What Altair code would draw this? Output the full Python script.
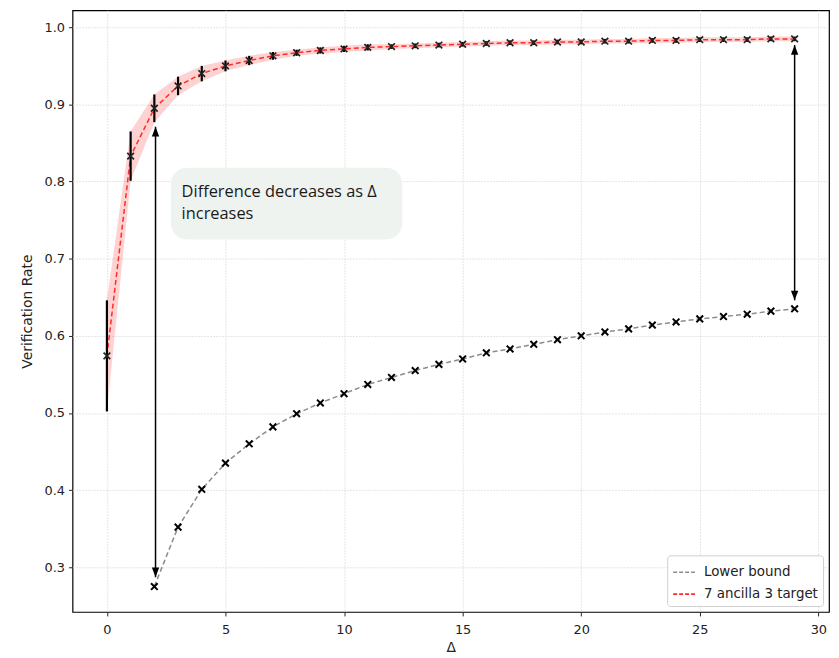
import altair as alt
import pandas as pd

# ---- data ----
delta = list(range(30))
rate_7a3t = [0.574, 0.833, 0.895, 0.924, 0.940, 0.950, 0.957, 0.963, 0.967, 0.970,
             0.972, 0.974, 0.975, 0.976, 0.977, 0.978, 0.979, 0.980, 0.980, 0.981,
             0.981, 0.982, 0.982, 0.983, 0.983, 0.984, 0.984, 0.984, 0.985, 0.985]
err_7a3t = [0.072, 0.032, 0.018, 0.012, 0.010, 0.007, 0.006, 0.005, 0.004, 0.004,
            0.004, 0.004, 0.003, 0.003, 0.003, 0.003, 0.003, 0.003, 0.003, 0.003,
            0.003, 0.003, 0.003, 0.003, 0.003, 0.003, 0.003, 0.003, 0.003, 0.003]
delta_lb = list(range(2, 30))
rate_lb = [0.275, 0.352, 0.401, 0.435, 0.460, 0.482, 0.499, 0.513, 0.525, 0.537,
           0.546, 0.555, 0.563, 0.570, 0.578, 0.583, 0.589, 0.595, 0.600, 0.605,
           0.609, 0.614, 0.618, 0.622, 0.625, 0.628, 0.632, 0.635]
series_names = ["Lower bound", "7 ancilla 3 target"]
series_colors = ["#8c8c8c", "#ff2a2a"]

# annotation: double-headed arrows (x, top tip, bottom tip)
arrow_x = [2.05, 29.0]
arrow_top = [0.871, 0.977]
arrow_bottom = [0.287, 0.646]
note_lines = ["Difference decreases as Δ", "increases"]
note_x, note_y = 3.15, 0.786
box_x, box_x2, box_y, box_y2 = 2.7, 12.45, 0.725, 0.818

# ---- tables ----
red = pd.DataFrame({"x": delta, "y": rate_7a3t, "e": err_7a3t})
red["lo"] = red["y"] - red["e"]
red["hi"] = red["y"] + red["e"]
red["series"] = series_names[1]
gray = pd.DataFrame({"x": delta_lb, "y": rate_lb, "series": series_names[0]})
lines = pd.concat([gray, red[["x", "y", "series"]]], ignore_index=True)
arrows = pd.DataFrame({"x": arrow_x, "top": arrow_top, "bottom": arrow_bottom})
note = pd.DataFrame({"x": [note_x], "y": [note_y]})
box = pd.DataFrame({"x": [box_x], "x2": [box_x2], "y": [box_y], "y2": [box_y2]})

xs = alt.Scale(domain=[-1.45, 30.45], nice=False, zero=False)
ys = alt.Scale(domain=[0.242, 1.022], nice=False, zero=False)
X = alt.X("x:Q", scale=xs, title="Δ",
          axis=alt.Axis(values=[0, 5, 10, 15, 20, 25, 30], labelPadding=8))
Y = alt.Y("y:Q", scale=ys, title="Verification Rate",
          axis=alt.Axis(values=[0.3, 0.4, 0.5, 0.6, 0.7, 0.8, 0.9, 1.0], format=".1f"))

xmark = "M-1,-1L1,1M-1,1L1,-1"

band = alt.Chart(red).mark_area(color="#ff3030", opacity=0.22).encode(
    x=X, y=alt.Y("lo:Q", scale=ys), y2="hi:Q")

line = alt.Chart(lines).mark_line(strokeDash=[5, 3], strokeWidth=1.5).encode(
    x=X, y=Y,
    color=alt.Color("series:N",
                    scale=alt.Scale(domain=series_names, range=series_colors),
                    sort=series_names,
                    legend=alt.Legend(orient="bottom-right", title=None,
                                      symbolType="stroke", symbolDash=[4, 2],
                                      symbolStrokeWidth=1.6, symbolSize=480,
                                      labelFontSize=13.5, labelFont="DejaVu Sans",
                                      labelColor="#222", fillColor="white",
                                      strokeColor="#d0d0d0", cornerRadius=3,
                                      padding=5, offset=6, rowPadding=3,
                                      labelOffset=8)))

errbars = alt.Chart(red).mark_rule(color="black", strokeWidth=2.2).encode(
    x=X, y=alt.Y("lo:Q", scale=ys), y2="hi:Q")

pts_red = alt.Chart(red).mark_point(shape=xmark, size=45, color="#222",
                                    strokeWidth=1.7, filled=False, opacity=1).encode(x=X, y=Y)
pts_gray = alt.Chart(gray).mark_point(shape=xmark, size=45, color="black",
                                      strokeWidth=2, filled=False, opacity=1).encode(x=X, y=Y)

arrow_shaft = alt.Chart(arrows).mark_rule(color="black", strokeWidth=1.5).encode(
    x=alt.X("x:Q", scale=xs), y=alt.Y("bottom:Q", scale=ys), y2="top:Q")
head_up = alt.Chart(arrows).mark_point(shape="M0,0L-0.38,1L0.38,1Z", size=380,
                                       filled=True, color="black", opacity=1).encode(
    x=alt.X("x:Q", scale=xs), y=alt.Y("top:Q", scale=ys))
head_down = alt.Chart(arrows).mark_point(shape="M0,0L-0.38,-1L0.38,-1Z", size=380,
                                         filled=True, color="black", opacity=1).encode(
    x=alt.X("x:Q", scale=xs), y=alt.Y("bottom:Q", scale=ys))

note_box = alt.Chart(box).mark_rect(fill="#eef2ef", cornerRadius=16, opacity=0.95).encode(
    x=alt.X("x:Q", scale=xs), x2="x2:Q", y=alt.Y("y:Q", scale=ys), y2="y2:Q")
note_text = alt.Chart(note).mark_text(text=note_lines, align="left", baseline="middle",
                                      font="Open Sans", fontSize=16.5, lineHeight=22,
                                      color="#1a1a1a").encode(
    x=alt.X("x:Q", scale=xs), y=alt.Y("y:Q", scale=ys))

chart = alt.layer(band, line, errbars, pts_red, pts_gray, arrow_shaft, head_up, head_down,
                  note_box, note_text).properties(
    width=762, height=606,
    autosize=alt.AutoSizeParams(type="none"),
    padding={"left": 65, "top": 0, "right": 2, "bottom": 42},
).configure_view(stroke="black", strokeWidth=1.2).configure_axis(
    domain=False, grid=True, gridColor="#e4e4e4", gridDash=[2, 1], gridWidth=1,
    tickColor="#222", tickSize=4, labelFont="DejaVu Sans", labelFontSize=13,
    labelColor="#222", titleFont="DejaVu Sans", titleFontSize=14,
    titleFontWeight="normal", titleColor="#222", labelPadding=4,
).configure_axisY(titlePadding=10).configure_axisX(titlePadding=4)

chart.save("out.html", embed_options={"renderer": "svg", "actions": False})
